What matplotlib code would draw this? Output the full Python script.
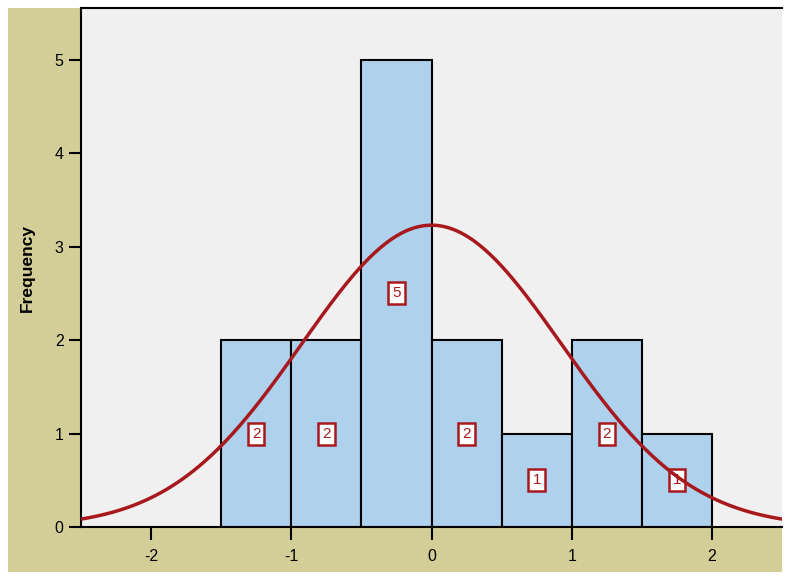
import matplotlib.pyplot as plt
import numpy as np
from matplotlib.patches import Rectangle

plt.rcParams['font.family'] = ['Liberation Sans', 'DejaVu Sans']
plt.rcParams['axes.unicode_minus'] = False

# histogram bins and counts
bin_edges = [-1.5, -1.0, -0.5, 0.0, 0.5, 1.0, 1.5, 2.0]
counts = [2, 2, 5, 2, 1, 2, 1]

# fitted normal curve parameters
mean = 0.0
sd = 0.926
n_total = 15
bin_width = 0.5

fig = plt.figure(figsize=(7.86, 5.81), dpi=100)
fig.patch.set_facecolor("white")
fig.add_artist(Rectangle((8 / 786, 9 / 581), 774 / 786, 564 / 581,
                         transform=fig.transFigure, facecolor="#D3CE98",
                         edgecolor="none", zorder=0))

ax = fig.add_axes([81 / 786, 54 / 581, 701 / 786, 519 / 581])
ax.set_facecolor("#F0F0F0")

lefts = np.array(bin_edges[:-1])
ax.bar(lefts, counts, width=bin_width, align="edge", color="#AED1EE",
       edgecolor="black", linewidth=1.5, zorder=2)

for left, c in zip(lefts, counts):
    ax.text(left + bin_width / 2, c / 2, str(c), ha="center", va="center",
            fontsize=11, color="#A8191E", zorder=3,
            bbox=dict(boxstyle="square,pad=0.26", facecolor="white",
                      edgecolor="#A8191E", linewidth=1.8))

xs = np.linspace(-2.5, 2.5, 400)
ys = n_total * bin_width * np.exp(-0.5 * ((xs - mean) / sd) ** 2) / (sd * np.sqrt(2 * np.pi))
ax.plot(xs, ys, color="#A8191E", linewidth=2.5, zorder=4)

ax.set_xlim(-2.5, 2.5)
ax.set_ylim(0, 5.556)
ax.set_xticks([-2, -1, 0, 1, 2])
ax.set_yticks([0, 1, 2, 3, 4, 5])
ax.tick_params(direction="out", length=9, width=1.5, labelsize=11.5, color="black", pad=3.5)
ax.tick_params(axis="x", pad=7)
for side in ["left", "bottom", "top", "right"]:
    ax.spines[side].set_linewidth(1.5)
ax.spines["right"].set_visible(False)
ax.set_ylabel("Frequency", fontsize=12.5, fontweight="bold", labelpad=14)

fig.savefig("out.png", dpi=100)
